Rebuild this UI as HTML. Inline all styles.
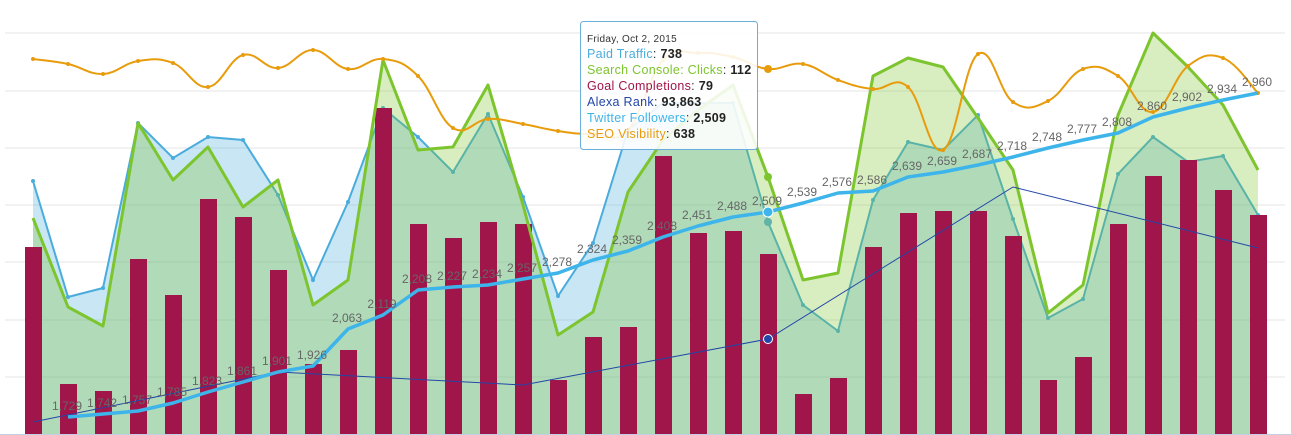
<!DOCTYPE html>
<html><head><meta charset="utf-8"><style>
html,body{margin:0;padding:0;background:#fff;overflow:hidden}
svg{display:block;font-family:"Liberation Sans",sans-serif}
</style></head><body>
<svg id="c" width="1291" height="435" viewBox="0 0 1291 435" xmlns="http://www.w3.org/2000/svg"></svg>
<script>
const X=i=>33+35*i;
const bars=[247,384,391,259,295,199,217,270,364,350,108,224,238,222,224,380,337,327,156,233,231,254,394,378,247,213,211,211,236,380,357,224,176,160,190,215];
const paid=[181,297,288,123,158,137,140,195,280,202,108,137,172,114,197,296,243,130,103,103,103,222,305,331,200,142,150,115,219,318,299,174,137,162,156,215];
const green=[218,307,326,123,180,147,207,180,305,280,60,150,147,85,205,335,312,192,140,110,85,177,280,273,76,58,67,118,170,313,285,115,33,67,105,170];
const seo=[59,64,74,61,63,87,55,68,50,69,59,76,128,119,124,131,134,130,60,53,57,69,64,80,89,87,150,54,102,101,69,76,112,66,58,93];
const tw=[null,417,414,411,403,392,382,372,366,329,315,290,287,285,279,273,260,251,237,226,217,212,203,193,191,177,172,165,157,148,140,133,117,108,100,93];
const twl=["","1,729","1,742","1,757","1,785","1,823","1,861","1,901","1,926","2,063","2,119","2,208","2,227","2,234","2,257","2,278","2,324","2,359","2,408","2,451","2,488","2,509","2,539","2,576","2,586","2,639","2,659","2,687","2,718","2,748","2,777","2,808","2,860","2,902","2,934","2,960"];
let s='';
[33,91,148,205,262,320,377].forEach(y=>s+=`<line x1="5" x2="1285" y1="${y}" y2="${y}" stroke="#e6e6e6"/>`);
const pts=a=>a.map((y,i)=>`${X(i)},${y}`).join(' ');
s+=`<polygon points="33,434 ${pts(paid)} 1258,434" fill="rgba(74,172,220,0.3)"/>`;
s+=`<polyline points="${pts(paid)}" fill="none" stroke="#4aacdc" stroke-width="2"/>`;
paid.forEach((y,i)=>s+=`<circle cx="${X(i)}" cy="${y}" r="2" fill="#4aacdc"/>`);
s+=`<polygon points="33,434 ${pts(green)} 1258,434" fill="rgba(125,197,46,0.3)"/>`;
bars.forEach((y,i)=>s+=`<rect x="${X(i)-8}" y="${y}" width="17" height="${434-y}" fill="#a0154a"/>`);
s+=`<polyline points="${pts(green)}" fill="none" stroke="#7dc52e" stroke-width="3" stroke-linejoin="round"/>`;
let d=`M${X(0)},${seo[0]}`;
for(let i=0;i<seo.length-1;i++){
 const p0=[X(Math.max(i-1,0)),seo[Math.max(i-1,0)]],p1=[X(i),seo[i]],p2=[X(i+1),seo[i+1]],p3=[X(Math.min(i+2,35)),seo[Math.min(i+2,35)]];
 const k=5;
 const c1=[p1[0]+(p2[0]-p0[0])/k,p1[1]+(p2[1]-p0[1])/k],c2=[p2[0]-(p3[0]-p1[0])/k,p2[1]-(p3[1]-p1[1])/k];
 d+=` C${c1} ${c2} ${p2}`;
}
s+=`<path d="${d}" fill="none" stroke="#e89c0c" stroke-width="2"/>`;
seo.forEach((y,i)=>s+=`<circle cx="${X(i)}" cy="${y}" r="2" fill="#e89c0c"/>`);
s+=`<polyline points="33,422 278,372 523,385 768,339 1013,187 1258,248" fill="none" stroke="#2346a8" stroke-width="1"/>`;
let tp=tw.map((y,i)=>y==null?null:`${X(i)},${y}`).filter(Boolean).join(' ');
s+=`<polyline points="${tp}" fill="none" stroke="#3db5ea" stroke-width="3.5" stroke-linejoin="round"/>`;
tw.forEach((y,i)=>{if(y!=null)s+=`<text x="${X(i)-1}" y="${y-7}" font-size="12" fill="#666" text-anchor="middle">${twl[i]}</text>`;});
s+=`<line x1="0" x2="1291" y1="434.5" y2="434.5" stroke="#c0d0e0"/>`;
s+=`<circle cx="768" cy="69" r="4" fill="#e89c0c"/><circle cx="768" cy="177" r="4" fill="#7dc52e"/><circle cx="768" cy="222" r="4" fill="#5fb3a8"/><circle cx="768" cy="212" r="5" fill="#3db5ea" stroke="#fff" stroke-width="1"/><circle cx="768" cy="339" r="4.5" fill="#2346a8" stroke="#fff" stroke-width="1"/>`;
s+=`<rect x="580.5" y="21.5" width="177" height="128" rx="3" fill="rgba(255,255,255,0.88)" stroke="#6aaedc" stroke-width="1"/>`;
s+=`<text x="587" y="42" font-size="10" fill="#333" letter-spacing="0.3">Friday, Oct 2, 2015</text>`;
const rows=[["Paid Traffic","#4aacdc","738"],["Search Console: Clicks","#7dc52e","112"],["Goal Completions","#a0154a","79"],["Alexa Rank","#2346a8","93,863"],["Twitter Followers","#3db5ea","2,509"],["SEO Visibility","#e89c0c","638"]];
rows.forEach((r,k)=>s+=`<text x="587" y="${58+k*16}" font-size="12.5" letter-spacing="0.3"><tspan fill="${r[1]}">${r[0]}</tspan><tspan fill="#333">: </tspan><tspan fill="#222" font-weight="bold">${r[2]}</tspan></text>`);
document.getElementById('c').innerHTML=s;
</script>
</body></html>
